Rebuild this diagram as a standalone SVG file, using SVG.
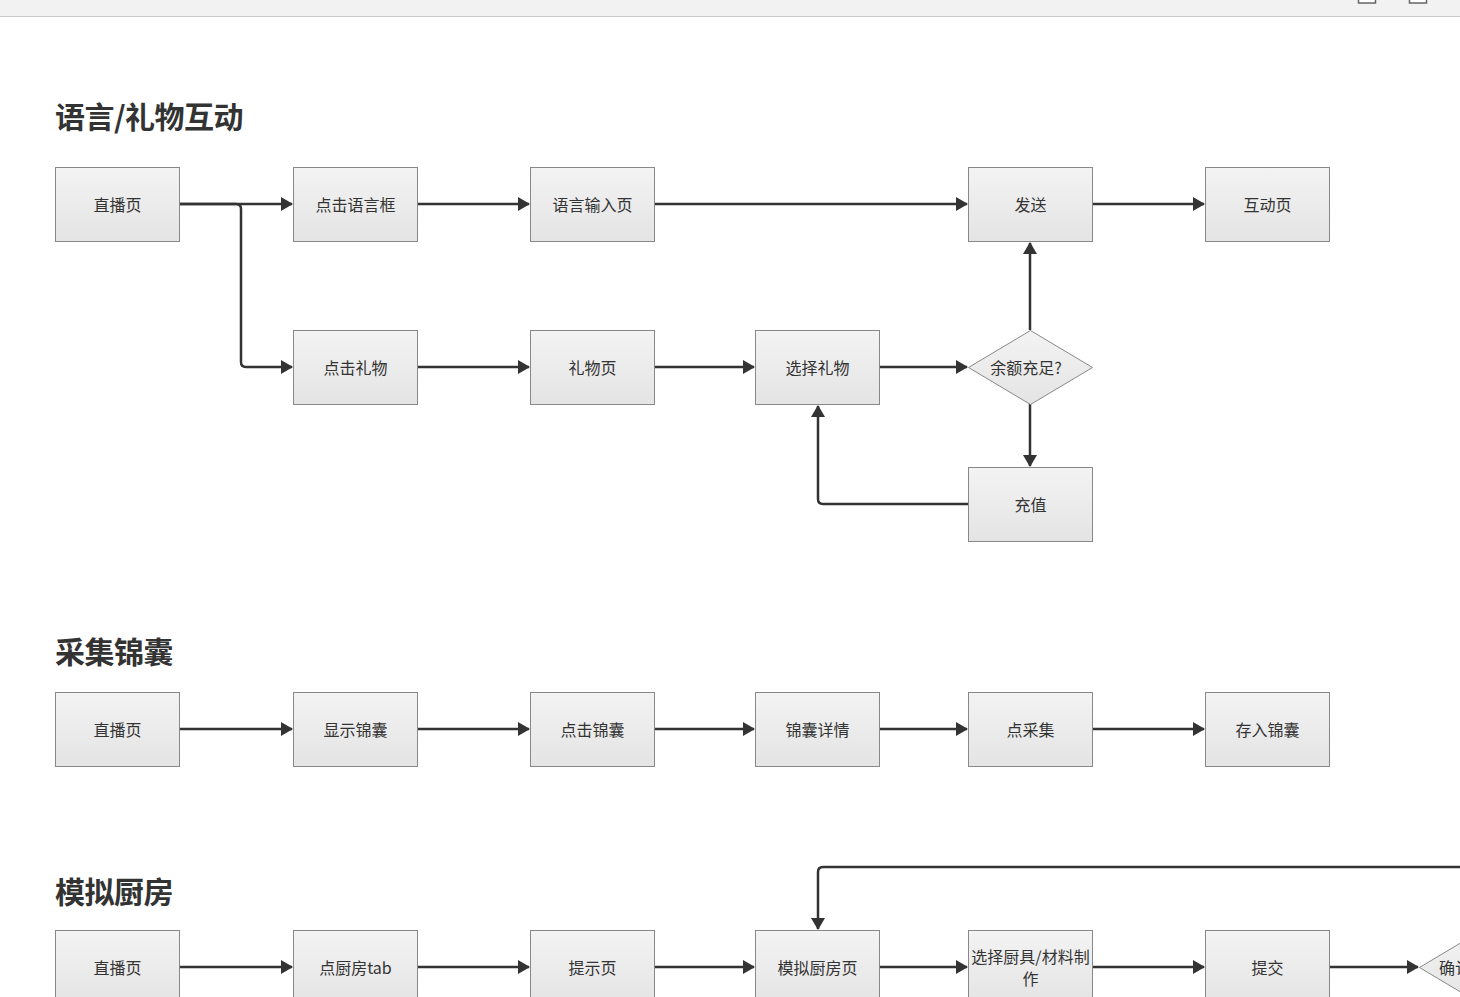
<svg xmlns="http://www.w3.org/2000/svg" width="1460" height="997" viewBox="0 0 1460 997">
<defs>
<linearGradient id="g" x1="0" y1="0" x2="0" y2="1">
<stop offset="0" stop-color="#f3f3f3"/>
<stop offset="1" stop-color="#e4e4e4"/>
</linearGradient>
<marker id="arr" viewBox="0 0 12 14" refX="11" refY="7" markerWidth="12" markerHeight="14" markerUnits="userSpaceOnUse" orient="auto">
<path d="M0,0 L12,7 L0,14 z" fill="#333"/>
</marker>
<style>
.n rect,.n polygon{fill:url(#g);stroke:#888;stroke-width:1}
.n text{font-family:"Microsoft YaHei","Noto Sans CJK SC","Liberation Sans",sans-serif;font-size:16px;fill:#333;text-anchor:middle}
.t{font-family:"Noto Sans CJK SC","Liberation Sans",sans-serif;font-size:30px;font-weight:bold;fill:#333;letter-spacing:-0.5px}
#edges path{fill:none;stroke:#333;stroke-width:2.5;marker-end:url(#arr)}
</style>
</defs>
<rect width="1460" height="997" fill="#fff"/>
<rect x="0" y="0" width="1460" height="16" fill="#f2f2f2"/>
<line x1="0" y1="16.5" x2="1460" y2="16.5" stroke="#cccccc" stroke-width="1"/>
<rect x="1358.5" y="-3" width="17" height="6" fill="#fff" stroke="#666" stroke-width="1.5"/>
<rect x="1409.5" y="-3" width="17" height="6" fill="#fff" stroke="#666" stroke-width="1.5"/>

<text class="t" x="55" y="128">语言/礼物互动</text>
<text class="t" x="55" y="663">采集锦囊</text>
<text class="t" x="55" y="903">模拟厨房</text>

<g id="edges">
<path d="M179,204 H292"/>
<path d="M179,204 H236 Q241,204 241,209 V362 Q241,367 246,367 H292"/>
<path d="M417,204 H529"/>
<path d="M654,204 H967"/>
<path d="M1092,204 H1204"/>
<path d="M417,367 H529"/>
<path d="M654,367 H754"/>
<path d="M879,367 H967"/>
<path d="M1030,330 V243"/>
<path d="M1030,404 V466"/>
<path d="M968,504 H823 Q818,504 818,499 V406"/>
<path d="M179,729 H292"/>
<path d="M417,729 H529"/>
<path d="M654,729 H754"/>
<path d="M879,729 H967"/>
<path d="M1092,729 H1204"/>
<path d="M179,967 H292"/>
<path d="M417,967 H529"/>
<path d="M654,967 H754"/>
<path d="M879,967 H967"/>
<path d="M1092,967 H1204"/>
<path d="M1329,967 H1418"/>
<path d="M1460,867 H823 Q818,867 818,872 V929"/>
</g>

<g id="n1" class="n"><rect x="55.5" y="167.5" width="124" height="74"/><text x="117.5" y="211">直播页</text></g>
<g id="n2" class="n"><rect x="293.5" y="167.5" width="124" height="74"/><text x="355.5" y="211">点击语言框</text></g>
<g id="n3" class="n"><rect x="530.5" y="167.5" width="124" height="74"/><text x="592.5" y="211">语言输入页</text></g>
<g id="n4" class="n"><rect x="968.5" y="167.5" width="124" height="74"/><text x="1030.5" y="211">发送</text></g>
<g id="n5" class="n"><rect x="1205.5" y="167.5" width="124" height="74"/><text x="1267.5" y="211">互动页</text></g>
<g id="n6" class="n"><rect x="293.5" y="330.5" width="124" height="74"/><text x="355.5" y="374">点击礼物</text></g>
<g id="n7" class="n"><rect x="530.5" y="330.5" width="124" height="74"/><text x="592.5" y="374">礼物页</text></g>
<g id="n8" class="n"><rect x="755.5" y="330.5" width="124" height="74"/><text x="817.5" y="374">选择礼物</text></g>
<g id="n9" class="n"><polygon points="968.5,367.5 1030.5,330.5 1092.5,367.5 1030.5,404.5"/><text x="1026" y="374">余额充足?</text></g>
<g id="n10" class="n"><rect x="968.5" y="467.5" width="124" height="74"/><text x="1030.5" y="511">充值</text></g>

<g id="n11" class="n"><rect x="55.5" y="692.5" width="124" height="74"/><text x="117.5" y="736">直播页</text></g>
<g id="n12" class="n"><rect x="293.5" y="692.5" width="124" height="74"/><text x="355.5" y="736">显示锦囊</text></g>
<g id="n13" class="n"><rect x="530.5" y="692.5" width="124" height="74"/><text x="592.5" y="736">点击锦囊</text></g>
<g id="n14" class="n"><rect x="755.5" y="692.5" width="124" height="74"/><text x="817.5" y="736">锦囊详情</text></g>
<g id="n15" class="n"><rect x="968.5" y="692.5" width="124" height="74"/><text x="1030.5" y="736">点采集</text></g>
<g id="n16" class="n"><rect x="1205.5" y="692.5" width="124" height="74"/><text x="1267.5" y="736">存入锦囊</text></g>

<g id="n17" class="n"><rect x="55.5" y="930.5" width="124" height="74"/><text x="117.5" y="974">直播页</text></g>
<g id="n18" class="n"><rect x="293.5" y="930.5" width="124" height="74"/><text x="355.5" y="974">点厨房tab</text></g>
<g id="n19" class="n"><rect x="530.5" y="930.5" width="124" height="74"/><text x="592.5" y="974">提示页</text></g>
<g id="n20" class="n"><rect x="755.5" y="930.5" width="124" height="74"/><text x="817.5" y="974">模拟厨房页</text></g>
<g id="n21" class="n"><rect x="968.5" y="930.5" width="124" height="74"/><text x="1030.5" y="963">选择厨具/材料制</text><text x="1030.5" y="985">作</text></g>
<g id="n22" class="n"><rect x="1205.5" y="930.5" width="124" height="74"/><text x="1267.5" y="974">提交</text></g>
<g id="n23" class="n"><polygon points="1419.5,967.5 1481.5,930.5 1543.5,967.5 1481.5,1004.5"/><text x="1439" y="974" style="text-anchor:start">确认</text></g>
</svg>
